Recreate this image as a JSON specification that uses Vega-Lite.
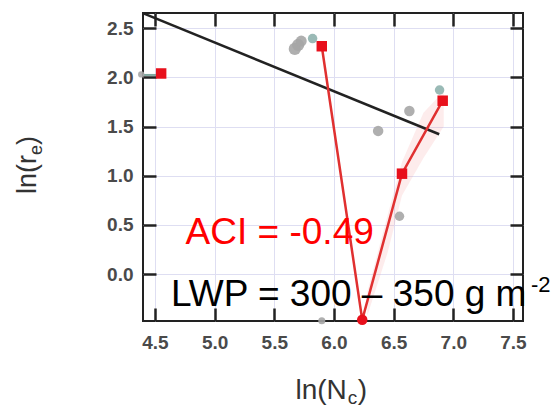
{
  "$schema": "https://vega.github.io/schema/vega-lite/v6.json",
  "autosize": "none",
  "width": 380,
  "height": 308,
  "padding": {"left": 143, "top": 13, "right": 34, "bottom": 90},
  "background": "white",
  "config": {
    "view": {"stroke": "#222222", "strokeWidth": 2},
    "font": "Liberation Sans",
    "axis": {
      "domain": false,
      "tickColor": "#222222",
      "tickWidth": 2.5,
      "tickSize": 13,
      "offset": -13,
      "labelFont": "Liberation Sans",
      "labelFontSize": 19,
      "labelFontWeight": "bold",
      "labelColor": "#4a4a4a",
      "gridColor": "#dedef2",
      "gridWidth": 1,
      "grid": false,
      "zindex": 1,
      "title": null
    }
  },
  "datasets": {
    "gray": [
      {"x": 4.385, "y": 2.03, "kind": "gray", "s": 40},
      {"x": 5.672, "y": 2.29, "kind": "gray", "s": 150},
      {"x": 5.70, "y": 2.33, "kind": "gray", "s": 150},
      {"x": 5.726, "y": 2.37, "kind": "gray", "s": 120},
      {"x": 5.821, "y": 2.395, "kind": "teal", "s": 90},
      {"x": 6.37, "y": 1.456, "kind": "gray", "s": 110},
      {"x": 6.632, "y": 1.659, "kind": "gray", "s": 110},
      {"x": 6.885, "y": 1.872, "kind": "teal", "s": 90},
      {"x": 6.549, "y": 0.588, "kind": "gray", "s": 90},
      {"x": 5.898, "y": -0.475, "kind": "gray", "s": 50}
    ],
    "fit": [
      {"x": 4.409, "y": 2.648},
      {"x": 6.882, "y": 1.422}
    ],
    "left": [
      {"x": 4.40, "y": 2.025},
      {"x": 4.53, "y": 2.025}
    ],
    "red": [
      {"x": 5.898, "y": 2.317, "shape": "square"},
      {"x": 6.237, "y": -0.465, "shape": "circle"},
      {"x": 6.570, "y": 1.021, "shape": "square"},
      {"x": 6.911, "y": 1.763, "shape": "square"}
    ],
    "redlone": [
      {"x": 4.552, "y": 2.040, "shape": "square"}
    ],
    "band": [
      {"x": 6.28, "lo": -0.42, "hi": -0.18},
      {"x": 6.45, "lo": 0.22, "hi": 0.60},
      {"x": 6.57, "lo": 0.80, "hi": 1.14},
      {"x": 6.75, "lo": 1.18, "hi": 1.64},
      {"x": 6.92, "lo": 1.50, "hi": 1.86}
    ],
    "annot": [
      {"id": "aci", "text": "ACI = -0.49", "x": 4.757, "y": 0.301},
      {"id": "lwp", "text": "LWP = 300 \u2013 350 g m", "x": 4.634, "y": -0.323},
      {"id": "sup", "text": "-2", "x": 7.65, "y": -0.181},
      {"id": "xt", "text": "ln(N", "x": 5.99, "y": -1.272},
      {"id": "xs", "text": "c", "x": 5.99, "y": -1.272},
      {"id": "xe", "text": ")", "x": 5.99, "y": -1.272},
      {"id": "yt", "text": "ln(r", "x": 3.505, "y": 1.119},
      {"id": "ys", "text": "e", "x": 3.505, "y": 1.119},
      {"id": "ye", "text": ")", "x": 3.505, "y": 1.119}
    ]
  },
  "layer": [
    {
      "data": {"name": "left"},
      "mark": {"type": "line", "color": "#7fa79f", "strokeWidth": 2},
      "encoding": {
        "x": {"field": "x", "type": "quantitative",
              "scale": {"domain": [4.40, 7.584], "nice": false, "zero": false},
              "axis": {"orient": "bottom", "values": [4.5, 5.0, 5.5, 6.0, 6.5, 7.0, 7.5], "grid": true, "ticks": false, "labels": false, "offset": 0, "zindex": 0}},
        "y": {"field": "y", "type": "quantitative",
              "scale": {"domain": [-0.477, 2.655], "nice": false, "zero": false},
              "axis": {"orient": "left", "values": [0.0, 0.5, 1.0, 1.5, 2.0, 2.5], "grid": true, "ticks": false, "labels": false, "offset": 0, "zindex": 0}}
      }
    },
    {
      "data": {"name": "band"},
      "mark": {"type": "area", "color": "#f4a0a0", "opacity": 0.2},
      "encoding": {
        "x": {"field": "x", "type": "quantitative",
              "axis": {"orient": "bottom", "values": [4.5, 5.0, 5.5, 6.0, 6.5, 7.0, 7.5], "format": ".1f", "labelPadding": 12}},
        "y": {"field": "lo", "type": "quantitative",
              "axis": {"orient": "left", "values": [0.0, 0.5, 1.0, 1.5, 2.0, 2.5], "format": ".1f", "labelPadding": 10}},
        "y2": {"field": "hi"}
      }
    },
    {
      "data": {"name": "fit"},
      "mark": {"type": "line", "color": "#222222", "strokeWidth": 2.5},
      "encoding": {
        "x": {"field": "x", "type": "quantitative",
              "axis": {"orient": "top", "values": [4.5, 5.0, 5.5, 6.0, 6.5, 7.0, 7.5], "labels": false}},
        "y": {"field": "y", "type": "quantitative",
              "axis": {"orient": "right", "values": [0.0, 0.5, 1.0, 1.5, 2.0, 2.5], "labels": false}}
      }
    },
    {
      "data": {"name": "gray"},
      "mark": {"type": "circle", "opacity": 0.9},
      "encoding": {
        "x": {"field": "x", "type": "quantitative", "axis": null},
        "y": {"field": "y", "type": "quantitative", "axis": null},
        "size": {"field": "s", "type": "quantitative", "scale": null, "legend": null},
        "color": {"field": "kind", "type": "nominal",
                  "scale": {"domain": ["gray", "teal"], "range": ["#a6a6a6", "#8fb3ae"]}, "legend": null}
      }
    },
    {
      "data": {"name": "red"},
      "mark": {"type": "line", "color": "#e03030", "strokeWidth": 2.5},
      "encoding": {
        "x": {"field": "x", "type": "quantitative", "axis": null},
        "y": {"field": "y", "type": "quantitative", "axis": null},
        "order": {"field": "x", "type": "quantitative"}
      }
    },
    {
      "data": {"name": "red"},
      "mark": {"type": "point", "filled": true, "opacity": 1, "color": "#e8101c", "size": 110},
      "encoding": {
        "x": {"field": "x", "type": "quantitative", "axis": null},
        "y": {"field": "y", "type": "quantitative", "axis": null},
        "shape": {"field": "shape", "type": "nominal", "scale": {"domain": ["square", "circle"], "range": ["square", "circle"]}, "legend": null}
      }
    },
    {
      "data": {"name": "redlone"},
      "mark": {"type": "point", "filled": true, "opacity": 1, "color": "#e8101c", "size": 110, "shape": "square"},
      "encoding": {
        "x": {"field": "x", "type": "quantitative", "axis": null},
        "y": {"field": "y", "type": "quantitative", "axis": null}
      }
    },
    {
      "data": {"name": "annot"},
      "transform": [{"filter": "datum.id === 'aci'"}],
      "mark": {"type": "text", "align": "left", "baseline": "alphabetic", "fontSize": 37, "color": "#ff0000", "font": "Liberation Sans"},
      "encoding": {
        "x": {"field": "x", "type": "quantitative", "axis": null},
        "y": {"field": "y", "type": "quantitative", "axis": null},
        "text": {"field": "text"}
      }
    },
    {
      "data": {"name": "annot"},
      "transform": [{"filter": "datum.id === 'lwp'"}],
      "mark": {"type": "text", "align": "left", "baseline": "alphabetic", "fontSize": 37, "color": "#000000", "font": "Liberation Sans"},
      "encoding": {
        "x": {"field": "x", "type": "quantitative", "axis": null},
        "y": {"field": "y", "type": "quantitative", "axis": null},
        "text": {"field": "text"}
      }
    },
    {
      "data": {"name": "annot"},
      "transform": [{"filter": "datum.id === 'sup'"}],
      "mark": {"type": "text", "align": "left", "baseline": "alphabetic", "fontSize": 22, "color": "#000000", "font": "Liberation Sans"},
      "encoding": {
        "x": {"field": "x", "type": "quantitative", "axis": null},
        "y": {"field": "y", "type": "quantitative", "axis": null},
        "text": {"field": "text"}
      }
    },
    {
      "data": {"name": "annot"},
      "transform": [{"filter": "datum.id === 'xt'"}],
      "mark": {"type": "text", "align": "right", "baseline": "alphabetic", "fontSize": 28, "color": "#333333", "font": "Liberation Sans", "dx": 14},
      "encoding": {
        "x": {"field": "x", "type": "quantitative", "axis": null},
        "y": {"field": "y", "type": "quantitative", "axis": null},
        "text": {"field": "text"}
      }
    },
    {
      "data": {"name": "annot"},
      "transform": [{"filter": "datum.id === 'xs'"}],
      "mark": {"type": "text", "align": "left", "baseline": "alphabetic", "fontSize": 19, "color": "#333333", "font": "Liberation Sans", "dx": 15, "dy": 5},
      "encoding": {
        "x": {"field": "x", "type": "quantitative", "axis": null},
        "y": {"field": "y", "type": "quantitative", "axis": null},
        "text": {"field": "text"}
      }
    },
    {
      "data": {"name": "annot"},
      "transform": [{"filter": "datum.id === 'xe'"}],
      "mark": {"type": "text", "align": "left", "baseline": "alphabetic", "fontSize": 28, "color": "#333333", "font": "Liberation Sans", "dx": 25},
      "encoding": {
        "x": {"field": "x", "type": "quantitative", "axis": null},
        "y": {"field": "y", "type": "quantitative", "axis": null},
        "text": {"field": "text"}
      }
    },
    {
      "data": {"name": "annot"},
      "transform": [{"filter": "datum.id === 'yt'"}],
      "mark": {"type": "text", "align": "left", "baseline": "alphabetic", "fontSize": 27, "color": "#333333", "font": "Liberation Sans", "angle": 270, "dx": -30},
      "encoding": {
        "x": {"field": "x", "type": "quantitative", "axis": null},
        "y": {"field": "y", "type": "quantitative", "axis": null},
        "text": {"field": "text"}
      }
    },
    {
      "data": {"name": "annot"},
      "transform": [{"filter": "datum.id === 'ys'"}],
      "mark": {"type": "text", "align": "left", "baseline": "alphabetic", "fontSize": 18, "color": "#333333", "font": "Liberation Sans", "angle": 270, "dx": 9, "dy": 6},
      "encoding": {
        "x": {"field": "x", "type": "quantitative", "axis": null},
        "y": {"field": "y", "type": "quantitative", "axis": null},
        "text": {"field": "text"}
      }
    },
    {
      "data": {"name": "annot"},
      "transform": [{"filter": "datum.id === 'ye'"}],
      "mark": {"type": "text", "align": "left", "baseline": "alphabetic", "fontSize": 27, "color": "#333333", "font": "Liberation Sans", "angle": 270, "dx": 19},
      "encoding": {
        "x": {"field": "x", "type": "quantitative", "axis": null},
        "y": {"field": "y", "type": "quantitative", "axis": null},
        "text": {"field": "text"}
      }
    }
  ],
  "resolve": {"axis": {"x": "independent", "y": "independent"}}
}
